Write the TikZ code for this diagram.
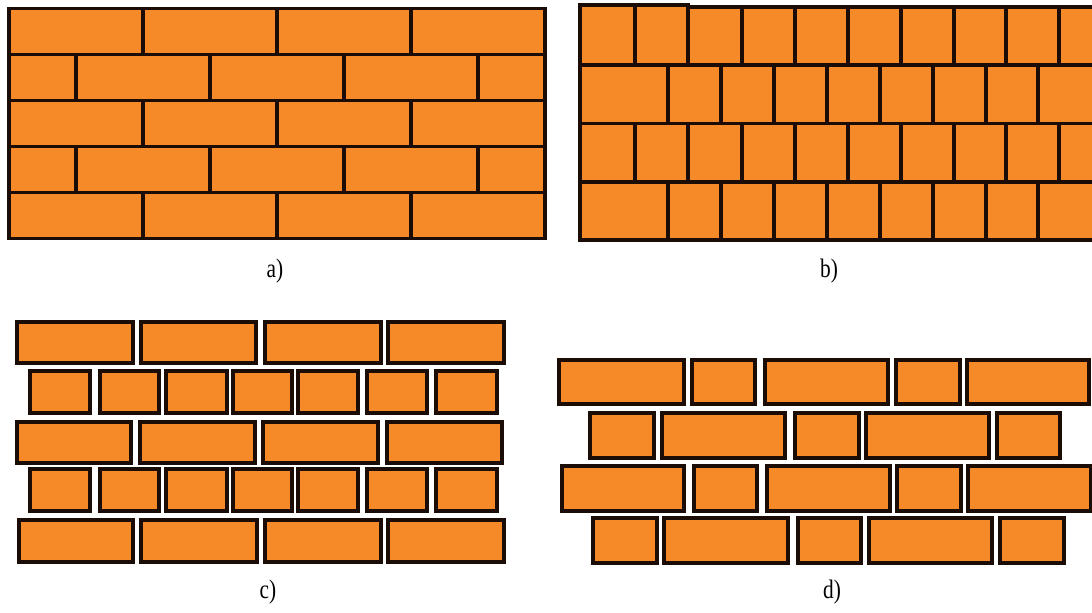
\documentclass[tikz,border=0pt]{standalone}
\usepackage{fontspec}
\setmainfont{Liberation Serif}
\usepackage{graphicx}
\usepackage{tikz}
\usetikzlibrary{calc}

\definecolor{brickfill}{RGB}{246,137,40}
\definecolor{brickline}{RGB}{28,12,6}

\begin{document}
\begin{tikzpicture}[x=0.75pt,y=-0.75pt,
        brick/.style={fill=brickfill,draw=brickline,line width=2.8pt},
        loosebrick/.style={fill=brickfill,draw=brickline,line width=2.5pt},
        caption/.style={font=\fontsize{20}{24}\selectfont}]
        \useasboundingbox (0,0) rectangle (1092,612);

        % a) running bond, half-brick offset
        \foreach \y in {8.5,100.5,192.5}
            \foreach \xa/\xb in {9/143,143/277,277/411,411/545}
                \draw[brick] (\xa,\y) rectangle (\xb,\y+46);
        \foreach \y in {54.5,146.5}
            \foreach \xa/\xb in {9/76,76/210,210/344,344/478,478/545}
                \draw[brick] (\xa,\y) rectangle (\xb,\y+46);

        % b) square blocks, right side cut off
        \begin{scope}
            \clip (570,0) rectangle (1092,250);
            \draw[brick] (580,5) rectangle (635,65);
            \draw[brick] (635,5) rectangle (688,65);
            \foreach \xa/\xb in {688/742,742/795,795/848,848/901,901/954,954/1006,1006/1059,1059/1112}
                \draw[brick] (\xa,7) rectangle (\xb,65);
            \foreach \y/\h in {65/58.5,182/58}
                \foreach \xa/\xb in {580/668,668/721,721/774,774/827,827/880,880/933,933/986,986/1038,1038/1100}
                    \draw[brick] (\xa,\y) rectangle (\xb,\y+\h);
            \foreach \xa/\xb in {580/635,635/688,688/742,742/795,795/848,848/901,901/954,954/1006,1006/1059,1059/1112}
                \draw[brick] (\xa,123.5) rectangle (\xb,182);
        \end{scope}

        % c) bricks with open joints
        \foreach \xa/\xb in {17/133,141/256,265/381,388/504}
            \draw[loosebrick] (\xa,322) rectangle (\xb,363);
        \foreach \y in {371,469}
            \foreach \xa/\xb in {30/90,100/159,166/227,233/292,298/358,367/427,436/497}
                \draw[loosebrick] (\xa,\y) rectangle (\xb,\y+42);
        \foreach \xa/\xb in {17/131,140/255,263/378,387/502}
            \draw[loosebrick] (\xa,422) rectangle (\xb,463);
        \foreach \xa/\xb in {19/133,141/257,265/381,388/504}
            \draw[loosebrick] (\xa,520) rectangle (\xb,562);

        % d) long and short bricks alternating
        \foreach \xa/\xb in {559/684,692/755,765/888,896/960,967/1089}
            \draw[loosebrick] (\xa,360) rectangle (\xb,404);
        \foreach \xa/\xb in {590/654,662/785,795/859,866/989,997/1060}
            \draw[loosebrick] (\xa,413) rectangle (\xb,458);
        \foreach \xa/\xb in {562/684,694/757,767/890,897/961,968/1091}
            \draw[loosebrick] (\xa,466) rectangle (\xb,511);
        \foreach \xa/\xb in {593/657,664/788,798/861,869/992,1000/1064}
            \draw[loosebrick] (\xa,518) rectangle (\xb,563);

        % captions
        \node[caption] (la) at (275,271) {\scalebox{0.8}[1]{a)}};
        \node[caption] (lb) at (829,271) {\scalebox{0.8}[1]{b)}};
        \node[caption] (lc) at (268,592) {\scalebox{0.8}[1]{c)}};
        \node[caption] (ld) at (832,592) {\scalebox{0.8}[1]{d)}};

    \end{tikzpicture}
\end{document}
